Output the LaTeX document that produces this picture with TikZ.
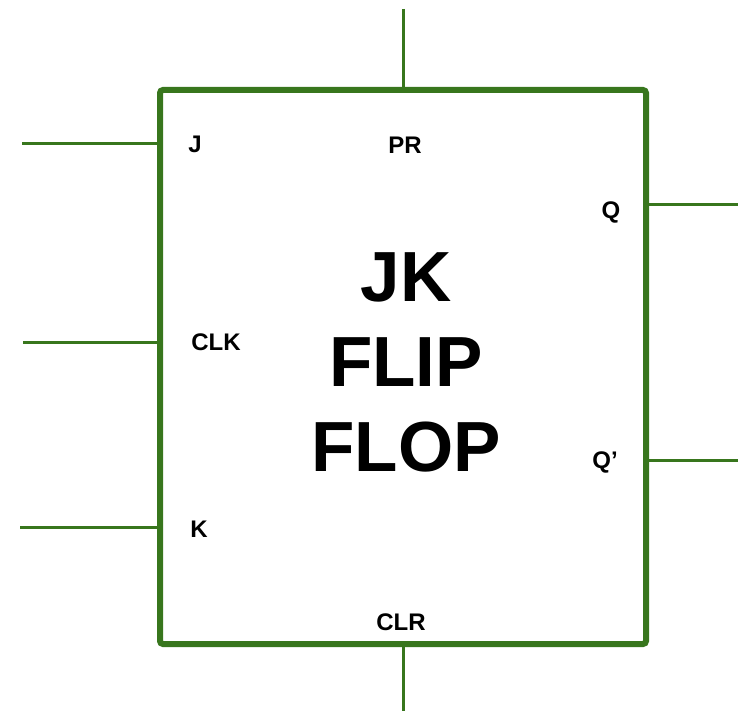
\documentclass[tikz,border=0pt]{standalone}
\usepackage{fontspec}
\setmainfont{Liberation Sans}
\usetikzlibrary{positioning, calc}
\definecolor{ffgreen}{HTML}{38761D}

\begin{document}
\begin{tikzpicture}[
  x=1pt, y=-1pt,
  flipflop/.style={
    draw=ffgreen, line width=6pt, rounded corners=3pt, outer sep=0pt,
    minimum width=486pt, minimum height=554pt
  },
  lead/.style={draw=ffgreen, line width=3pt},
  pinlabel/.style={font=\fontsize{24}{28}\selectfont\bfseries, inner sep=0pt},
  title/.style={font=\fontsize{71}{85}\selectfont\bfseries, align=center},
]
\useasboundingbox (0,0) rectangle (738,711);

\node[flipflop] (ff) at (403,367) {};
\node[title] (name) at (406,362) {JK\\FLIP\\FLOP};

% pin labels
\node[pinlabel] (lj) at (195,144) {J};
\node[pinlabel] (lclk) at (216,342) {CLK};
\node[pinlabel] (lk) at (199,529) {K};
\node[pinlabel] (lpr) at (405,145) {PR};
\node[pinlabel] (lclr) at (401,622) {CLR};
\node[pinlabel] (lq) at (611,212) {Q};
\node[pinlabel] (lqn) at (605,462) {Q'};

% free ends of the leads
\coordinate (j) at (22,144);
\coordinate (clk) at (23,342);
\coordinate (k) at (20,527);
\coordinate (pr) at (403,9);
\coordinate (clr) at (403,711);
\coordinate (q) at (738,205);
\coordinate (qn) at (738,460);

\draw[lead] (j) -- (j -| ff.west);
\draw[lead] (clk) -- (clk -| ff.west);
\draw[lead] (k) -- (k -| ff.west);
\draw[lead] (pr) -- (pr |- ff.north);
\draw[lead] (clr) -- (clr |- ff.south);
\draw[lead] (q) -- (q -| ff.east);
\draw[lead] (qn) -- (qn -| ff.east);

\end{tikzpicture}
\end{document}
